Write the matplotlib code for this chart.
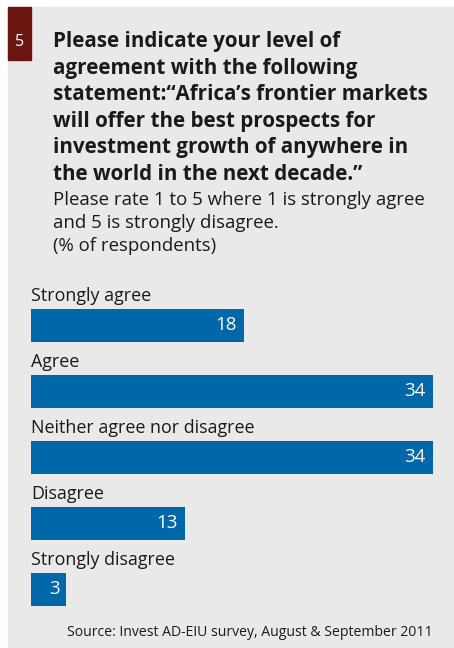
import matplotlib
matplotlib.use("Agg")
import matplotlib.pyplot as plt
from matplotlib.patches import Rectangle

# Survey responses (% of respondents)
categories = ["Strongly agree", "Agree", "Neither agree nor disagree",
              "Disagree", "Strongly disagree"]
values = [18, 34, 34, 13, 3]

title_lines = [
    "Please indicate your level of",
    "agreement with the following",
    "statement:\u201cAfrica\u2019s frontier markets",
    "will offer the best prospects for",
    "investment growth of anywhere in",
    "the world in the next decade.\u201d",
]
subtitle_lines = [
    "Please rate 1 to 5 where 1 is strongly agree",
    "and 5 is strongly disagree.",
    "(% of respondents)",
]
chart_number = "5"
source = "Source: Invest AD-EIU survey, August & September 2011"

W, H = 454, 648
DPI = 100
FONT = "Open Sans"
BAR_COLOR = "#0068a9"
PANEL_COLOR = "#e9e9e9"
BOX_COLOR = "#6c1612"
TEXT_COLOR = "#1a1a1a"

fig = plt.figure(figsize=(W / DPI, H / DPI), dpi=DPI)
fig.patch.set_facecolor("white")


def px(x, y):
    """Pixel position (from top-left) to figure fraction."""
    return x / W, 1 - y / H


# Grey panel and the numbered red tab
fig.patches.append(Rectangle(px(8, 648), (W - 8) / W, (648 - 7) / H,
                             transform=fig.transFigure, color=PANEL_COLOR,
                             zorder=-2))
fig.patches.append(Rectangle(px(8, 60), 23 / W, 53 / H,
                             transform=fig.transFigure, color=BOX_COLOR,
                             zorder=-1))
fig.text(*px(19.5, 46), chart_number, color="white", fontsize=11.5,
         family=FONT, ha="center", va="baseline")

# Title and subtitle
for i, line in enumerate(title_lines):
    fig.text(*px(53, 47 + i * 26.6), line, fontsize=14.9, fontweight="bold",
             family=FONT, color=TEXT_COLOR, ha="left", va="baseline")
for i, line in enumerate(subtitle_lines):
    fig.text(*px(53, 205 + i * 23), line, fontsize=13.4,
             family=FONT, color=TEXT_COLOR, ha="left", va="baseline")

# Bar chart area: x=0 at 31px, x=34 at 433px; rows 66px apart
ax_left, ax_right = 31, 433
ax_top, ax_bottom = 292.5, 622.5
ax = fig.add_axes([ax_left / W, 1 - ax_bottom / H,
                   (ax_right - ax_left) / W, (ax_bottom - ax_top) / H])
ax.set_zorder(3)
ax.patch.set_visible(False)
ax.set_xlim(0, 34)
ax.set_ylim(len(values) - 0.5, -0.5)
ax.axis("off")

ypos = list(range(len(values)))
ax.barh(ypos, values, height=0.5, color=BAR_COLOR, left=0)

for y, cat, v in zip(ypos, categories, values):
    ax.text(0, y - 0.25 - 8 / 66, cat, fontsize=12.9, family=FONT,
            color=TEXT_COLOR, ha="left", va="baseline")
    ax.annotate(str(v), xy=(v, y), xytext=(-7, 0), textcoords="offset pixels",
                ha="right", va="center", color="white", fontsize=13.5,
                family=FONT)

fig.text(*px(433, 636), source, fontsize=10.1, family=FONT,
         color=TEXT_COLOR, ha="right", va="baseline")

fig.savefig("out.png", dpi=DPI)
